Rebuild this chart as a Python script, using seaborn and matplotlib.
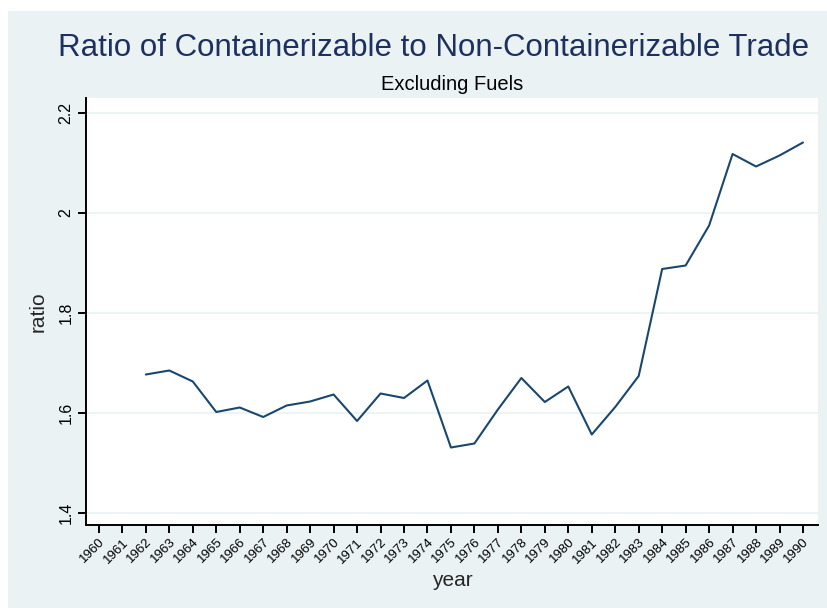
"""
Ratio of containerizable to non-containerizable trade, excluding fuels.
Stata-like s2color look rebuilt with seaborn / matplotlib.
"""

import numpy as np
import pandas as pd
import matplotlib
matplotlib.use("Agg")
import matplotlib.pyplot as plt
import seaborn as sns
from matplotlib.patches import Rectangle

# datos (1960 y 1961 sin observación)
years = list(range(1960, 1991))
ratio = [np.nan, np.nan,
         1.677, 1.685, 1.663, 1.602, 1.611, 1.592, 1.615, 1.623,
         1.637, 1.584, 1.639, 1.630, 1.665, 1.531, 1.539, 1.607,
         1.670, 1.622, 1.653, 1.557, 1.612, 1.674, 1.888, 1.895,
         1.975, 2.118, 2.093, 2.115, 2.141]
y_ticks = [1.4, 1.6, 1.8, 2.0, 2.2]

title = "Ratio of Containerizable to Non-Containerizable Trade"
subtitle = "Excluding Fuels"

STATA_BG = "#EAF2F3"
NAVY = "#1A476F"
TITLE_COL = "#1C3160"

W, H = 827, 608

sns.set_theme(style="white")
plt.rcParams["font.family"] = ["Liberation Sans", "DejaVu Sans"]

df = pd.DataFrame({"year": years, "ratio": ratio})

fig = plt.figure(figsize=(W / 100, H / 100), dpi=100)
fig.patch.set_facecolor("white")
bg = Rectangle((8 / W, 0), 1 - 8 / W, 1 - 11 / H,
               transform=fig.transFigure, facecolor=STATA_BG,
               edgecolor="none", zorder=-10)
fig.add_artist(bg)

# zona de gráfico en píxeles
left, right, top, bottom = 86, 818, 98, 525
ax = fig.add_axes([left / W, (H - bottom) / H,
                   (right - left) / W, (bottom - top) / H])
ax.set_facecolor("white")
ax.set_zorder(1)

sns.lineplot(data=df, x="year", y="ratio", ax=ax, color=NAVY,
             linewidth=1.5)

ax.set_xlim(1959.45, 1990.64)
ax.set_ylim(1.376, 2.23)
ax.set_xticks(years)
ax.set_xticklabels([str(y) for y in years], rotation=45, ha="right",
                   rotation_mode="anchor", fontsize=9.5)
ax.set_yticks(y_ticks)
ax.set_yticklabels(["1.4", "1.6", "1.8", "2", "2.2"], rotation=90,
                   va="center", fontsize=11.5)

ax.yaxis.grid(True, color=STATA_BG, linewidth=1.2)
ax.xaxis.grid(False)
ax.set_axisbelow(True)

for side in ["top", "right"]:
    ax.spines[side].set_visible(False)
for side in ["left", "bottom"]:
    ax.spines[side].set_color("black")
    ax.spines[side].set_linewidth(1.4)

ax.tick_params(axis="both", direction="out", length=6, width=1.4,
               color="black", labelcolor="black", bottom=True, left=True)
ax.tick_params(axis="x", pad=2)
ax.tick_params(axis="y", pad=3)

ax.set_xlabel("year", fontsize=15, labelpad=4)
ax.set_ylabel("ratio", fontsize=15, labelpad=8)

fig.text(434 / W, 1 - 48 / H, title, ha="center", va="center",
         fontsize=22.5, color=TITLE_COL)
fig.text(452 / W, 1 - 84 / H, subtitle, ha="center", va="center",
         fontsize=14.5, color="black")

fig.savefig("out.png", dpi=100, facecolor=fig.get_facecolor())
